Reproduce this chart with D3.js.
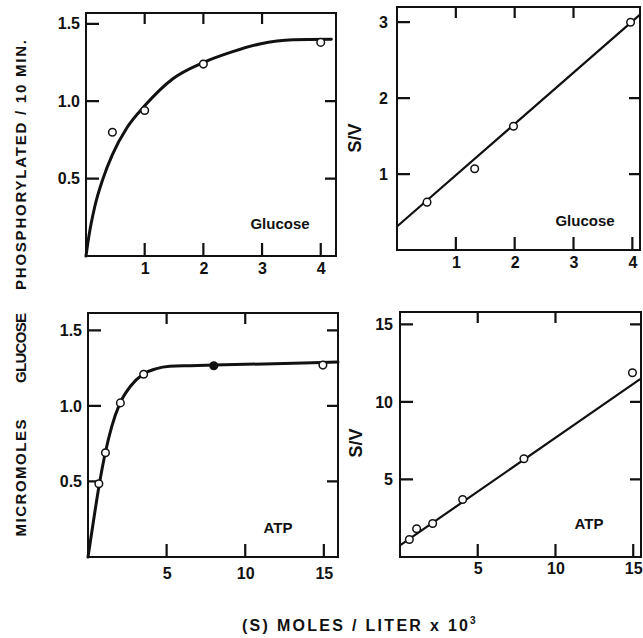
<!DOCTYPE html>
<html lang="en">
<head>
<meta charset="UTF-8" />
<title>Hexokinase kinetics: glucose and ATP</title>
<script src="https://d3js.org/d3.v7.min.js"></script>
<style>
  body { margin: 0; background: #fff; }
  svg text { font-family: "Liberation Sans", Arial, sans-serif; font-weight: bold; fill: #111; }
</style>
</head>
<body>
<div id="chart"></div>
<script>
// glucose series: rate (V) against glucose concentration, and S/V replot
const glucoseS = [0.45, 1, 2, 4]
const glucoseV = [0.80, 0.94, 1.24, 1.38]
const glucoseCurveS = [0, 0.05, 0.15, 0.29, 0.45, 0.7, 1.0, 1.48, 2.0, 2.5, 2.96, 3.53, 4.18]
const glucoseCurveV = [0, 0.13, 0.32, 0.50, 0.655, 0.83, 0.97, 1.145, 1.25, 1.32, 1.37, 1.397, 1.40]
const glucoseSVx = [0.51, 1.32, 1.98, 3.97]
const glucoseSV = [0.63, 1.07, 1.63, 3.0]
const glucoseLineS = [0, 4.13]
const glucoseLineSV = [0.31, 3.1]

// ATP series
const atpS = [0.69, 1.11, 2.06, 3.54, 8.0, 14.94]
const atpV = [0.485, 0.69, 1.02, 1.21, 1.266, 1.27]
const atpFilled = [false, false, false, false, true, false]
const atpCurveS = [0, 0.35, 0.7, 1.1, 1.5, 2.0, 2.7, 3.5, 4.3, 5.2, 6.5, 8.0, 15.9]
const atpCurveV = [0, 0.24, 0.47, 0.69, 0.86, 1.01, 1.13, 1.21, 1.245, 1.262, 1.266, 1.27, 1.29]
const atpSVx = [0.6, 1.07, 2.1, 4.03, 7.97, 14.95]
const atpSV = [1.13, 1.82, 2.16, 3.71, 6.34, 11.88]
const atpLineS = [0, 15.42]
const atpLineSV = [0.75, 11.45]

const width = 643
const height = 638

const svg = d3.select("#chart").append("svg")
    .attr("width", width)
    .attr("height", height)

const panels = [
    {
        box: { left: 86, right: 336, top: 13, bottom: 256 },
        xDomain: [0, 4.26], yDomain: [0, 1.57],
        bottomTicks: [1, 2, 3, 4], topTicks: [1, 2, 3],
        leftTicks: [0.5, 1.0, 1.5], rightTicks: [0.5, 1.0],
        yFormat: d3.format(".1f"), xFormat: d3.format("d"),
        xPad: 7, yPad: 6,
        curve: { x: glucoseCurveS, y: glucoseCurveV, width: 3, smooth: true },
        points: { x: glucoseS, y: glucoseV },
        name: "Glucose", namePos: [280, 229], yLabel: null
    },
    {
        box: { left: 397, right: 640, top: 7, bottom: 250 },
        xDomain: [0, 4.13], yDomain: [0, 3.2],
        bottomTicks: [1, 2, 3, 4], topTicks: [1, 2, 3],
        leftTicks: [1, 2, 3], rightTicks: [1, 2],
        yFormat: d3.format("d"), xFormat: d3.format("d"),
        xPad: 7, yPad: 9,
        curve: { x: glucoseLineS, y: glucoseLineSV, width: 2.2, smooth: false },
        points: { x: glucoseSVx, y: glucoseSV },
        name: "Glucose", namePos: [585, 226], yLabel: [355, 138]
    },
    {
        box: { left: 88, right: 338, top: 313, bottom: 557 },
        xDomain: [0, 15.9], yDomain: [0, 1.615],
        bottomTicks: [5, 10, 15], topTicks: [5, 10],
        leftTicks: [0.5, 1.0, 1.5], rightTicks: [0.5, 1.0, 1.5],
        yFormat: d3.format(".1f"), xFormat: d3.format("d"),
        xPad: 11, yPad: 6,
        curve: { x: atpCurveS, y: atpCurveV, width: 3, smooth: true },
        points: { x: atpS, y: atpV, filled: atpFilled },
        name: "ATP", namePos: [278, 533], yLabel: null
    },
    {
        box: { left: 400, right: 641, top: 312, bottom: 557 },
        xDomain: [0, 15.5], yDomain: [0, 15.8],
        bottomTicks: [5, 10, 15], topTicks: [5, 10],
        leftTicks: [5, 10, 15], rightTicks: [5, 10, 15],
        yFormat: d3.format("d"), xFormat: d3.format("d"),
        xPad: 6, yPad: 7,
        curve: { x: atpLineS, y: atpLineSV, width: 2.2, smooth: false },
        points: { x: atpSVx, y: atpSV },
        name: "ATP", namePos: [589, 529], yLabel: [356, 443]
    }
]

const tickLen = 13

panels.forEach(p => {
    const b = p.box
    const x = d3.scaleLinear().domain(p.xDomain).range([b.left, b.right])
    const y = d3.scaleLinear().domain(p.yDomain).range([b.bottom, b.top])

    const g = svg.append("g")

    const styleLabels = sel => sel
        .call(s => s.select(".domain").remove())
        .call(s => s.selectAll(".tick line").remove())
        .call(s => s.selectAll(".tick text")
            .attr("font-size", 16)
            .attr("font-family", "'Liberation Sans', Arial, sans-serif")
            .attr("font-weight", "bold")
            .attr("fill", "#111"))

    // tick labels on the left and bottom only
    g.append("g")
        .attr("transform", `translate(0,${b.bottom})`)
        .call(d3.axisBottom(x).tickValues(p.bottomTicks).tickFormat(p.xFormat)
            .tickSize(0).tickPadding(p.xPad))
        .call(styleLabels)

    g.append("g")
        .attr("transform", `translate(${b.left},0)`)
        .call(d3.axisLeft(y).tickValues(p.leftTicks).tickFormat(p.yFormat)
            .tickSize(0).tickPadding(p.yPad))
        .call(styleLabels)

    // short inward tick marks on all four sides, one path per panel
    const tickPath = []
    p.bottomTicks.forEach(v => tickPath.push(`M${x(v)},${b.bottom}V${b.bottom - tickLen}`))
    p.topTicks.forEach(v => tickPath.push(`M${x(v)},${b.top}V${b.top + 11}`))
    p.leftTicks.forEach(v => tickPath.push(`M${b.left},${y(v)}H${b.left + tickLen}`))
    p.rightTicks.forEach(v => tickPath.push(`M${b.right},${y(v)}H${b.right - 11}`))

    g.append("path")
        .attr("d", tickPath.join(""))
        .attr("fill", "none")
        .attr("stroke", "#111")
        .attr("stroke-width", 2.2)

    // frame
    g.append("rect")
        .attr("x", b.left).attr("y", b.top)
        .attr("width", b.right - b.left).attr("height", b.bottom - b.top)
        .attr("fill", "none").attr("stroke", "#111").attr("stroke-width", 2)

    // fitted curve / line
    const line = d3.line()
        .x((d, i) => x(p.curve.x[i]))
        .y(d => y(d))
        .curve(p.curve.smooth ? d3.curveMonotoneX : d3.curveLinear)

    g.append("path")
        .datum(p.curve.y)
        .attr("d", line)
        .attr("fill", "none")
        .attr("stroke", "#111")
        .attr("stroke-width", p.curve.width)
        .attr("stroke-linecap", "round")

    // measured points
    g.append("g")
        .selectAll("circle")
        .data(p.points.y)
        .join("circle")
        .attr("cx", (d, i) => x(p.points.x[i]))
        .attr("cy", d => y(d))
        .attr("r", 3.8)
        .attr("fill", (d, i) => p.points.filled && p.points.filled[i] ? "#111" : "#fff")
        .attr("stroke", "#111")
        .attr("stroke-width", 1.5)

    g.append("text")
        .attr("x", p.namePos[0]).attr("y", p.namePos[1])
        .attr("text-anchor", "middle")
        .attr("font-size", 15)
        .text(p.name)

    if (p.yLabel) {
        g.append("text")
            .attr("transform", `translate(${p.yLabel[0]},${p.yLabel[1]}) rotate(-90)`)
            .attr("text-anchor", "middle")
            .attr("dy", "0.35em")
            .attr("font-size", 18)
            .text("S/V")
    }
})

// shared y title, three word groups spaced along the left edge
const yTitleParts = [
    { text: "MICROMOLES", center: 478, length: 117 },
    { text: "GLUCOSE", center: 348, length: 70 },
    { text: "PHOSPHORYLATED / 10 MIN.", center: 165, length: 250 }
]
svg.append("g")
    .selectAll("text")
    .data(yTitleParts)
    .join("text")
    .attr("transform", d => `translate(21,${d.center}) rotate(-90)`)
    .attr("text-anchor", "middle")
    .attr("dy", "0.35em")
    .attr("font-size", 15)
    .attr("textLength", d => d.length)
    .attr("lengthAdjust", "spacing")
    .text(d => d.text)

const xTitle = svg.append("g")
xTitle.append("text")
    .attr("x", 242).attr("y", 631)
    .attr("font-size", 16)
    .attr("textLength", 226)
    .attr("lengthAdjust", "spacing")
    .text("(S) MOLES / LITER  x  10")
xTitle.append("text")
    .attr("x", 470).attr("y", 624)
    .attr("font-size", 10)
    .text("3")
</script>
</body>
</html>
